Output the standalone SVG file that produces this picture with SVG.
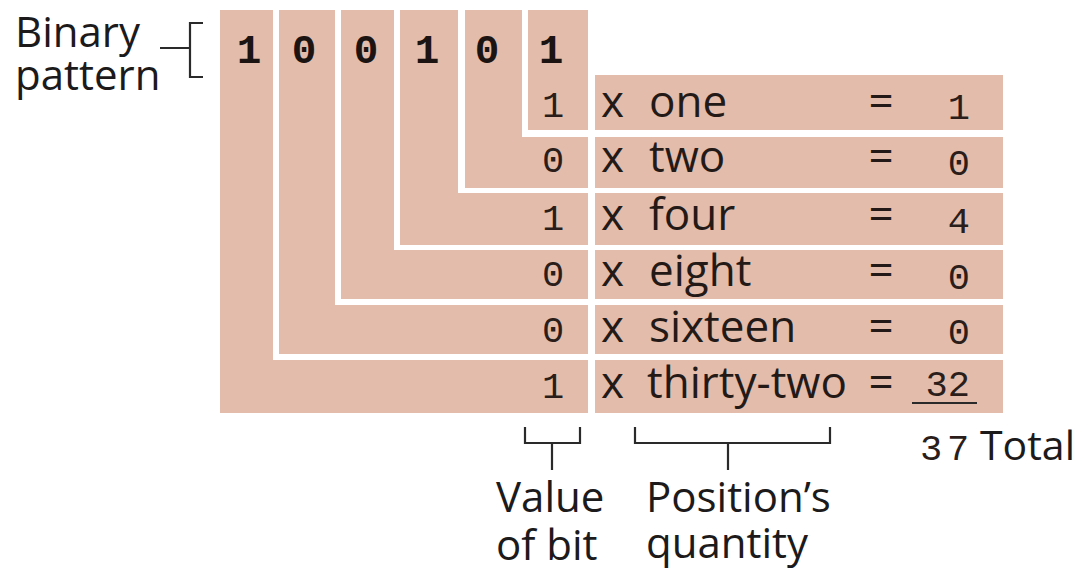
<svg xmlns="http://www.w3.org/2000/svg" width="1082" height="569" viewBox="0 0 1082 569">
  <style>
    .band { fill: #e3bcab; }
    .label { font-family: "Open Sans", "Liberation Sans", sans-serif; font-size: 42px; fill: #1c1a1a; }
    .word { font-family: "Open Sans", "Liberation Sans", sans-serif; font-size: 44px; fill: #231a17; }
    .bit { font-family: "Liberation Mono", "DejaVu Sans Mono", monospace; font-size: 41px; font-weight: bold; fill: #1c1412; text-anchor: middle; }
    .num { font-family: "Liberation Mono", "DejaVu Sans Mono", monospace; font-size: 37px; fill: #2a1d1a; }
    .mid { text-anchor: middle; }
    .end { text-anchor: end; }
    .rule { fill: none; stroke: #2a2a2a; stroke-width: 2.2; }
  </style>
  <rect width="1082" height="569" fill="#ffffff"/>

  <!-- Binary pattern label -->
  <g id="binary-pattern-label">
    <text class="label" x="15" y="47">Binary</text>
    <text class="label" x="15" y="90">pattern</text>
  </g>

  <!-- One L-shaped band per bit: down from the pattern, then across to its row -->
  <g id="bit-32">
    <path class="band" d="M220 10 H273 V360 H588 V413 H220 Z"/>
    <text class="bit" x="249" y="63">1</text>
    <text class="num mid" x="553" y="398">1</text>
  </g>
  <g id="bit-16">
    <path class="band" d="M279 10 H335 V305 H588 V354 H279 Z"/>
    <text class="bit" x="304" y="63">0</text>
    <text class="num mid" x="553" y="342">0</text>
  </g>
  <g id="bit-8">
    <path class="band" d="M341 10 H394 V250 H588 V299 H341 Z"/>
    <text class="bit" x="366" y="63">0</text>
    <text class="num mid" x="553" y="286">0</text>
  </g>
  <g id="bit-4">
    <path class="band" d="M400 10 H458 V193 H588 V245 H400 Z"/>
    <text class="bit" x="427" y="63">1</text>
    <text class="num mid" x="553" y="230">1</text>
  </g>
  <g id="bit-2">
    <path class="band" d="M465 10 H522 V137 H588 V188 H465 Z"/>
    <text class="bit" x="487" y="63">0</text>
    <text class="num mid" x="553" y="172">0</text>
  </g>
  <g id="bit-1">
    <rect class="band" x="528" y="10" width="60" height="120"/>
    <text class="bit" x="551" y="63">1</text>
    <text class="num mid" x="553" y="117">1</text>
  </g>

  <!-- Position rows: multiplier and product -->
  <g id="row-one">
    <rect class="band" x="595" y="75" width="408" height="55"/>
    <text class="word" x="601" y="117">x</text>
    <text class="word" x="649" y="117">one</text>
    <text class="word mid" x="881" y="117">=</text>
    <text class="num end" x="970" y="119">1</text>
  </g>
  <g id="row-two">
    <rect class="band" x="595" y="137" width="408" height="51"/>
    <text class="word" x="601" y="172">x</text>
    <text class="word" x="649" y="172">two</text>
    <text class="word mid" x="881" y="172">=</text>
    <text class="num end" x="970" y="175">0</text>
  </g>
  <g id="row-four">
    <rect class="band" x="595" y="193" width="408" height="52"/>
    <text class="word" x="601" y="230">x</text>
    <text class="word" x="649" y="230">four</text>
    <text class="word mid" x="881" y="230">=</text>
    <text class="num end" x="970" y="233">4</text>
  </g>
  <g id="row-eight">
    <rect class="band" x="595" y="250" width="408" height="49"/>
    <text class="word" x="601" y="286">x</text>
    <text class="word" x="649" y="286">eight</text>
    <text class="word mid" x="881" y="286">=</text>
    <text class="num end" x="970" y="289">0</text>
  </g>
  <g id="row-sixteen">
    <rect class="band" x="595" y="305" width="408" height="49"/>
    <text class="word" x="601" y="342">x</text>
    <text class="word" x="649" y="342">sixteen</text>
    <text class="word mid" x="881" y="342">=</text>
    <text class="num end" x="970" y="344">0</text>
  </g>
  <g id="row-thirty-two">
    <rect class="band" x="595" y="360" width="408" height="53"/>
    <text class="word" x="601" y="398">x</text>
    <text class="word" x="647" y="398">thirty-two</text>
    <text class="word mid" x="881" y="398">=</text>
    <text class="num end" x="970" y="396">32</text>
    <line class="rule" x1="912" y1="403" x2="977" y2="403"/>
  </g>

  <g id="total">
    <text class="num" x="920 947" y="460">37</text>
    <text class="label" x="980" y="460" style="font-size:41px">Total</text>
  </g>

  <g id="value-of-bit-label">
    <text class="label" x="496" y="512">Value</text>
    <text class="label" x="496" y="560">of bit</text>
  </g>
  <g id="positions-quantity-label">
    <text class="label" x="646" y="512">Position’s</text>
    <text class="label" x="646" y="558">quantity</text>
  </g>

  <!-- Brackets tying labels to the parts they name -->
  <g id="connectors">
    <path class="rule" d="M203 23 H190 V77 H203 M190 48 H160"/>
    <path class="rule" d="M525 427 V443 H580 V427 M552 443 V470"/>
    <path class="rule" d="M635 427 V443 H830 V427 M728 443 V470"/>
  </g>
</svg>
